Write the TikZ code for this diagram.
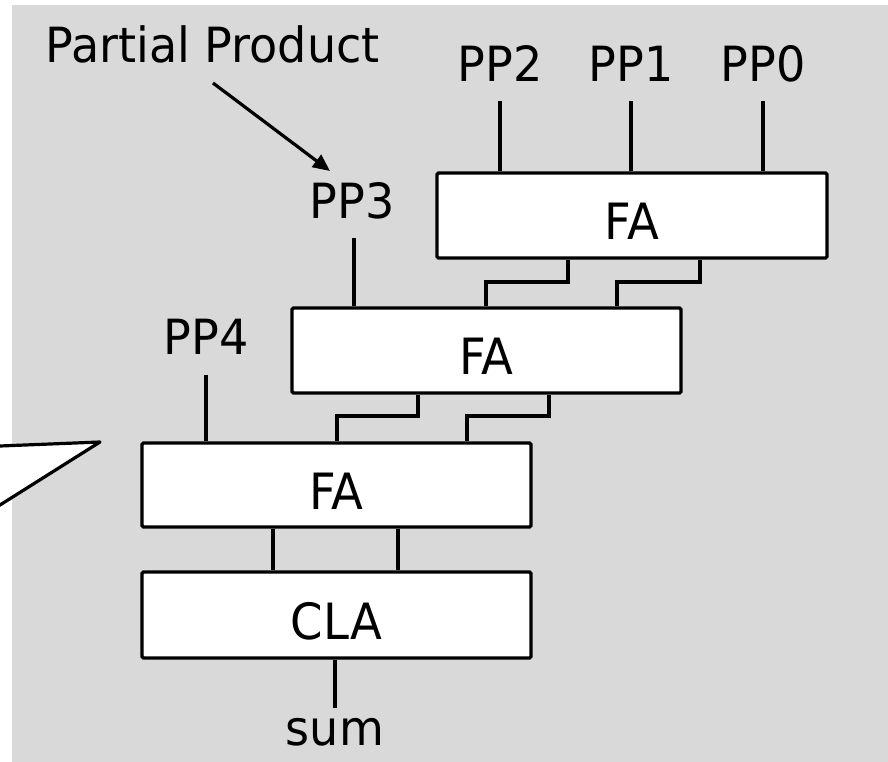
\documentclass[tikz,border=0pt]{standalone}
\usepackage{fontspec}
\setmainfont{DejaVu Sans}
\newfontfamily\lblfont[FakeStretch=0.95]{DejaVu Sans}
\newfontfamily\blkfont[FakeStretch=0.93]{DejaVu Sans}
\usetikzlibrary{arrows.meta}
\definecolor{bggray}{HTML}{D9D9D9}
\begin{document}
\begin{tikzpicture}[x=1pt,y=-1pt,
  wire/.style={line width=3.2pt},
  blk/.style={draw, fill=white, line width=3.2pt, rounded corners=1.5pt,
    minimum width=389pt, inner sep=0pt, font=\blkfont\fontsize{50pt}{52pt}\selectfont,
    text height=48pt, text depth=0pt},
  lbl/.style={inner sep=0pt, anchor=base, font=\lblfont\fontsize{48.5pt}{50pt}\selectfont}]
\useasboundingbox (0,0) rectangle (888,762);
\fill[bggray] (12,5) rectangle (888,762);
% callout fragment
\begin{scope}
\clip (0,0) rectangle (888,762);
\coordinate (ctip) at (100,442);
\coordinate (cA) at (-10,446.4);
\coordinate (cB) at (-10,511.3);
\fill[white] (cA) -- (ctip) -- (cB) -- cycle;
\draw[wire, line join=round] (cA) -- (ctip) -- (cB);
\end{scope}
% blocks
\node[blk, minimum width=390pt, minimum height=85pt] (fa1) at (632,215.5) {FA};
\node[blk, minimum height=85pt] (fa2) at (486.5,350.5) {FA};
\node[blk, minimum height=84pt] (fa3) at (336.5,485) {FA};
\node[blk, minimum height=86pt] (cla) at (336.5,615) {CLA};
% labels
\node[lbl] (pp2) at (500,82) {PP2};
\node[lbl] (pp1) at (631,82) {PP1};
\node[lbl] (pp0) at (763,82) {PP0};
\node[lbl] (pp3) at (352,218) {PP3};
\node[lbl] (pp4) at (206,354) {PP4};
\node[lbl] (sum) at (335,745) {sum};
\node[lbl] (pplab) at (212.5,63) {Partial Product};
% inputs
\draw[wire] (fa1.north -| pp2.base) -- ++(0,-70);
\draw[wire] (fa1.north -| pp1.base) -- ++(0,-70);
\draw[wire] (fa1.north -| pp0.base) -- ++(0,-70);
\draw[wire] (fa2.north -| 354,0) -- ++(0,-68);
\draw[wire] (fa3.north -| pp4.base) -- ++(0,-66);
\draw[wire] (cla.south -| sum.base) -- ++(0,48);
% fa1 -> fa2
\draw[wire] (fa1.south -| 568,0) -- (568,282) -- (486,282) -- (fa2.north -| 486,0);
\draw[wire] (fa1.south -| 700,0) -- (700,282) -- (617,282) -- (fa2.north -| 617,0);
% fa2 -> fa3
\draw[wire] (fa2.south -| 418,0) -- (418,416) -- (337,416) -- (fa3.north -| 337,0);
\draw[wire] (fa2.south -| 549,0) -- (549,416) -- (467,416) -- (fa3.north -| 467,0);
% fa3 -> cla
\draw[wire] (fa3.south -| 273,0) -- (cla.north -| 273,0);
\draw[wire] (fa3.south -| 398,0) -- (cla.north -| 398,0);
% arrow
\coordinate (as) at (213,83);
\coordinate (ae) at (330,171);
\draw[wire, -{Triangle[length=17pt,width=15pt]}] (as) -- (ae);
\end{tikzpicture}
\end{document}
